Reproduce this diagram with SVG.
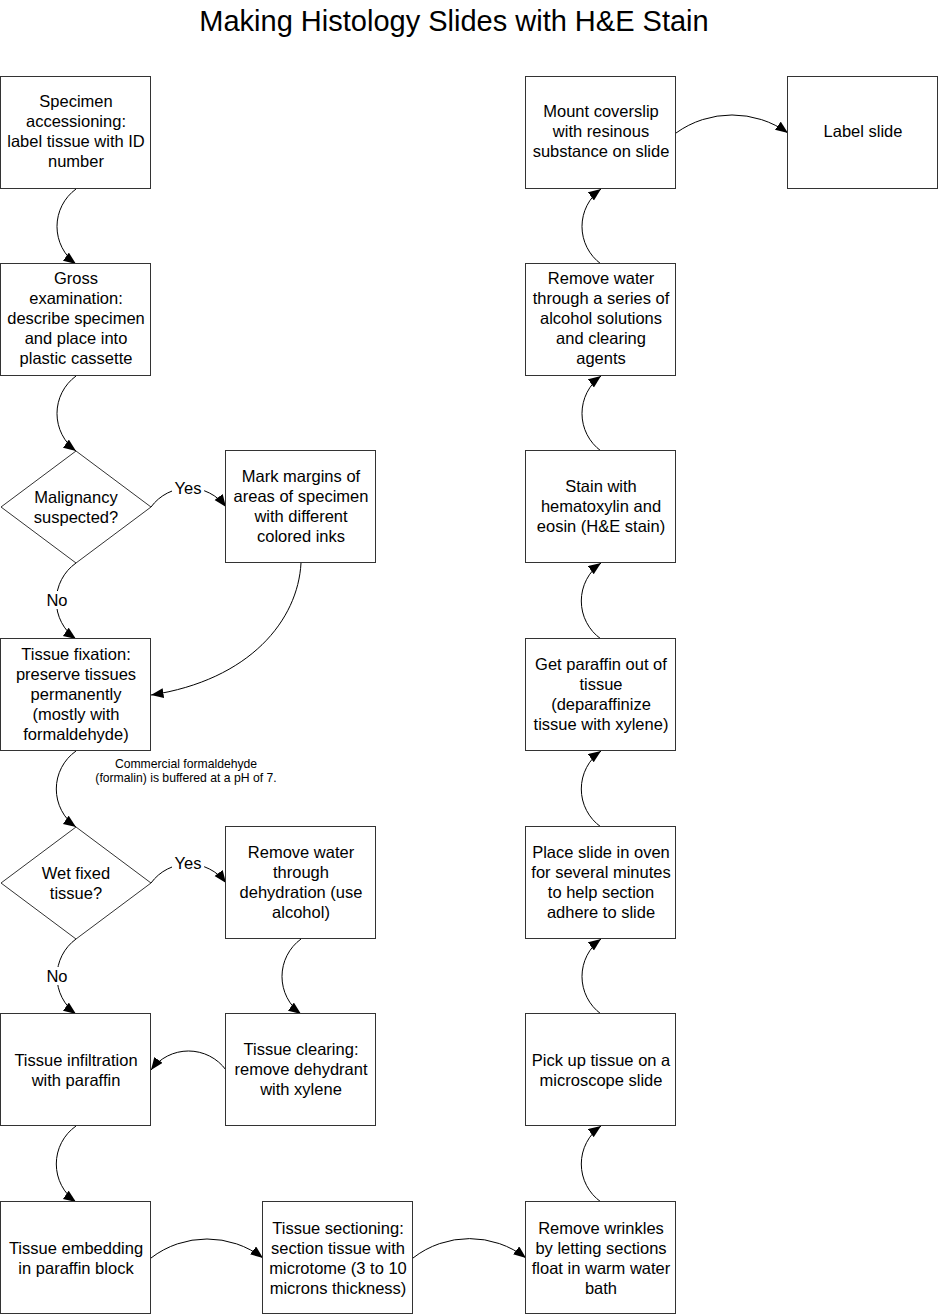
<svg xmlns="http://www.w3.org/2000/svg" width="939" height="1315" viewBox="0 0 939 1315">
<style>
.box{fill:#fff;stroke:#333;stroke-width:1}
.t{font-family:"Liberation Sans",Arial,sans-serif;font-size:16.5px;fill:#000;text-anchor:middle}
.title{font-family:"Liberation Sans",Arial,sans-serif;font-size:29px;fill:#000;text-anchor:middle}
.note{font-family:"Liberation Sans",Arial,sans-serif;font-size:12.2px;fill:#000;text-anchor:middle}
.c{fill:none;stroke:#000;stroke-width:1}
.lbg{fill:#fff;stroke:none}
</style>
<defs>
<marker id="ah" markerUnits="userSpaceOnUse" markerWidth="14" markerHeight="12" refX="12.5" refY="5" orient="auto">
<path d="M0,0 L12.5,5 L0,10 z" fill="#000"/>
</marker>
</defs>
<rect width="939" height="1315" fill="#fff"/>
<text class="title" x="454" y="31">Making Histology Slides with H&amp;E Stain</text>

<g id="connectors">
<path class="c" marker-end="url(#ah)" d="M76,189 A46.5,46.5 0 0,0 76,264"/>
<path class="c" marker-end="url(#ah)" d="M76,376 A46.5,46.5 0 0,0 76,451"/>
<path class="c" marker-end="url(#ah)" d="M151,507 A46.5,46.5 0 0,1 226,507"/>
<path class="c" marker-end="url(#ah)" d="M76,563 A46.5,46.5 0 0,0 76,639"/>
<path class="c" marker-end="url(#ah)" d="M301,563 C298,620 250,680 151,695"/>
<path class="c" marker-end="url(#ah)" d="M76,751 A46.5,46.5 0 0,0 76,827"/>
<path class="c" marker-end="url(#ah)" d="M151,883 A46.5,46.5 0 0,1 226,883"/>
<path class="c" marker-end="url(#ah)" d="M76,939 A46.5,46.5 0 0,0 76,1014"/>
<path class="c" marker-end="url(#ah)" d="M301,939 A46.5,46.5 0 0,0 301,1014"/>
<path class="c" marker-end="url(#ah)" d="M226,1070 A46.5,46.5 0 0,0 151,1070"/>
<path class="c" marker-end="url(#ah)" d="M76,1126 A46.5,46.5 0 0,0 76,1202"/>
<path class="c" marker-end="url(#ah)" d="M151,1258 A92,92 0 0,1 263,1258"/>
<path class="c" marker-end="url(#ah)" d="M413,1258 A92,92 0 0,1 526,1258"/>
<path class="c" marker-end="url(#ah)" d="M601,1202 A46.5,46.5 0 0,1 601,1126"/>
<path class="c" marker-end="url(#ah)" d="M601,1014 A46.5,46.5 0 0,1 601,939"/>
<path class="c" marker-end="url(#ah)" d="M601,827 A46.5,46.5 0 0,1 601,751"/>
<path class="c" marker-end="url(#ah)" d="M601,639 A46.5,46.5 0 0,1 601,563"/>
<path class="c" marker-end="url(#ah)" d="M601,451 A46.5,46.5 0 0,1 601,376"/>
<path class="c" marker-end="url(#ah)" d="M601,264 A46.5,46.5 0 0,1 601,189"/>
<path class="c" marker-end="url(#ah)" d="M676,133 A96,96 0 0,1 788,133"/>
<rect class="lbg" x="172" y="479" width="32" height="18"/>
<text class="t" x="188" y="494">Yes</text>
<rect class="lbg" x="46" y="591" width="22" height="18"/>
<text class="t" x="57" y="606">No</text>
<rect class="lbg" x="172" y="854" width="32" height="18"/>
<text class="t" x="188" y="869">Yes</text>
<rect class="lbg" x="46" y="967" width="22" height="18"/>
<text class="t" x="57" y="982">No</text>
</g>

<g id="n1"><rect class="box" x="0.5" y="76.5" width="150" height="112"/>
<text class="t" x="76" y="107">Specimen</text><text class="t" x="76" y="127">accessioning:</text><text class="t" x="76" y="147">label tissue with ID</text><text class="t" x="76" y="167">number</text></g>

<g id="n2"><rect class="box" x="0.5" y="263.5" width="150" height="112"/>
<text class="t" x="76" y="284">Gross</text><text class="t" x="76" y="304">examination:</text><text class="t" x="76" y="324">describe specimen</text><text class="t" x="76" y="344">and place into</text><text class="t" x="76" y="364">plastic cassette</text></g>

<g id="d1"><polygon class="box" points="1,507 76,451 151,507 76,563"/>
<text class="t" x="76" y="503">Malignancy</text><text class="t" x="76" y="523">suspected?</text></g>

<g id="n3"><rect class="box" x="225.5" y="450.5" width="150" height="112"/>
<text class="t" x="301" y="482">Mark margins of</text><text class="t" x="301" y="502">areas of specimen</text><text class="t" x="301" y="522">with different</text><text class="t" x="301" y="542">colored inks</text></g>

<g id="n4"><rect class="box" x="0.5" y="638.5" width="150" height="112"/>
<text class="t" x="76" y="660">Tissue fixation:</text><text class="t" x="76" y="680">preserve tissues</text><text class="t" x="76" y="700">permanently</text><text class="t" x="76" y="720">(mostly with</text><text class="t" x="76" y="740">formaldehyde)</text></g>

<g id="note"><text class="note" x="186" y="768">Commercial formaldehyde</text><text class="note" x="186" y="782">(formalin) is buffered at a pH of 7.</text></g>

<g id="d2"><polygon class="box" points="1,883 76,827 151,883 76,939"/>
<text class="t" x="76" y="879">Wet fixed</text><text class="t" x="76" y="899">tissue?</text></g>

<g id="n5"><rect class="box" x="225.5" y="826.5" width="150" height="112"/>
<text class="t" x="301" y="858">Remove water</text><text class="t" x="301" y="878">through</text><text class="t" x="301" y="898">dehydration (use</text><text class="t" x="301" y="918">alcohol)</text></g>

<g id="n6"><rect class="box" x="225.5" y="1013.5" width="150" height="112"/>
<text class="t" x="301" y="1055">Tissue clearing:</text><text class="t" x="301" y="1075">remove dehydrant</text><text class="t" x="301" y="1095">with xylene</text></g>

<g id="n7"><rect class="box" x="0.5" y="1013.5" width="150" height="112"/>
<text class="t" x="76" y="1066">Tissue infiltration</text><text class="t" x="76" y="1086">with paraffin</text></g>

<g id="n8"><rect class="box" x="0.5" y="1201.5" width="150" height="112"/>
<text class="t" x="76" y="1254">Tissue embedding</text><text class="t" x="76" y="1274">in paraffin block</text></g>

<g id="n9"><rect class="box" x="262.5" y="1201.5" width="150" height="112"/>
<text class="t" x="338" y="1234">Tissue sectioning:</text><text class="t" x="338" y="1254">section tissue with</text><text class="t" x="338" y="1274">microtome (3 to 10</text><text class="t" x="338" y="1294">microns thickness)</text></g>

<g id="n10"><rect class="box" x="525.5" y="1201.5" width="150" height="112"/>
<text class="t" x="601" y="1234">Remove wrinkles</text><text class="t" x="601" y="1254">by letting sections</text><text class="t" x="601" y="1274">float in warm water</text><text class="t" x="601" y="1294">bath</text></g>

<g id="n11"><rect class="box" x="525.5" y="1013.5" width="150" height="112"/>
<text class="t" x="601" y="1066">Pick up tissue on a</text><text class="t" x="601" y="1086">microscope slide</text></g>

<g id="n12"><rect class="box" x="525.5" y="826.5" width="150" height="112"/>
<text class="t" x="601" y="858">Place slide in oven</text><text class="t" x="601" y="878">for several minutes</text><text class="t" x="601" y="898">to help section</text><text class="t" x="601" y="918">adhere to slide</text></g>

<g id="n13"><rect class="box" x="525.5" y="638.5" width="150" height="112"/>
<text class="t" x="601" y="670">Get paraffin out of</text><text class="t" x="601" y="690">tissue</text><text class="t" x="601" y="710">(deparaffinize</text><text class="t" x="601" y="730">tissue with xylene)</text></g>

<g id="n14"><rect class="box" x="525.5" y="450.5" width="150" height="112"/>
<text class="t" x="601" y="492">Stain with</text><text class="t" x="601" y="512">hematoxylin and</text><text class="t" x="601" y="532">eosin (H&amp;E stain)</text></g>

<g id="n15"><rect class="box" x="525.5" y="263.5" width="150" height="112"/>
<text class="t" x="601" y="284">Remove water</text><text class="t" x="601" y="304">through a series of</text><text class="t" x="601" y="324">alcohol solutions</text><text class="t" x="601" y="344">and clearing</text><text class="t" x="601" y="364">agents</text></g>

<g id="n16"><rect class="box" x="525.5" y="76.5" width="150" height="112"/>
<text class="t" x="601" y="117">Mount coverslip</text><text class="t" x="601" y="137">with resinous</text><text class="t" x="601" y="157">substance on slide</text></g>

<g id="n17"><rect class="box" x="787.5" y="76.5" width="150" height="112"/>
<text class="t" x="863" y="137">Label slide</text></g>
</svg>
